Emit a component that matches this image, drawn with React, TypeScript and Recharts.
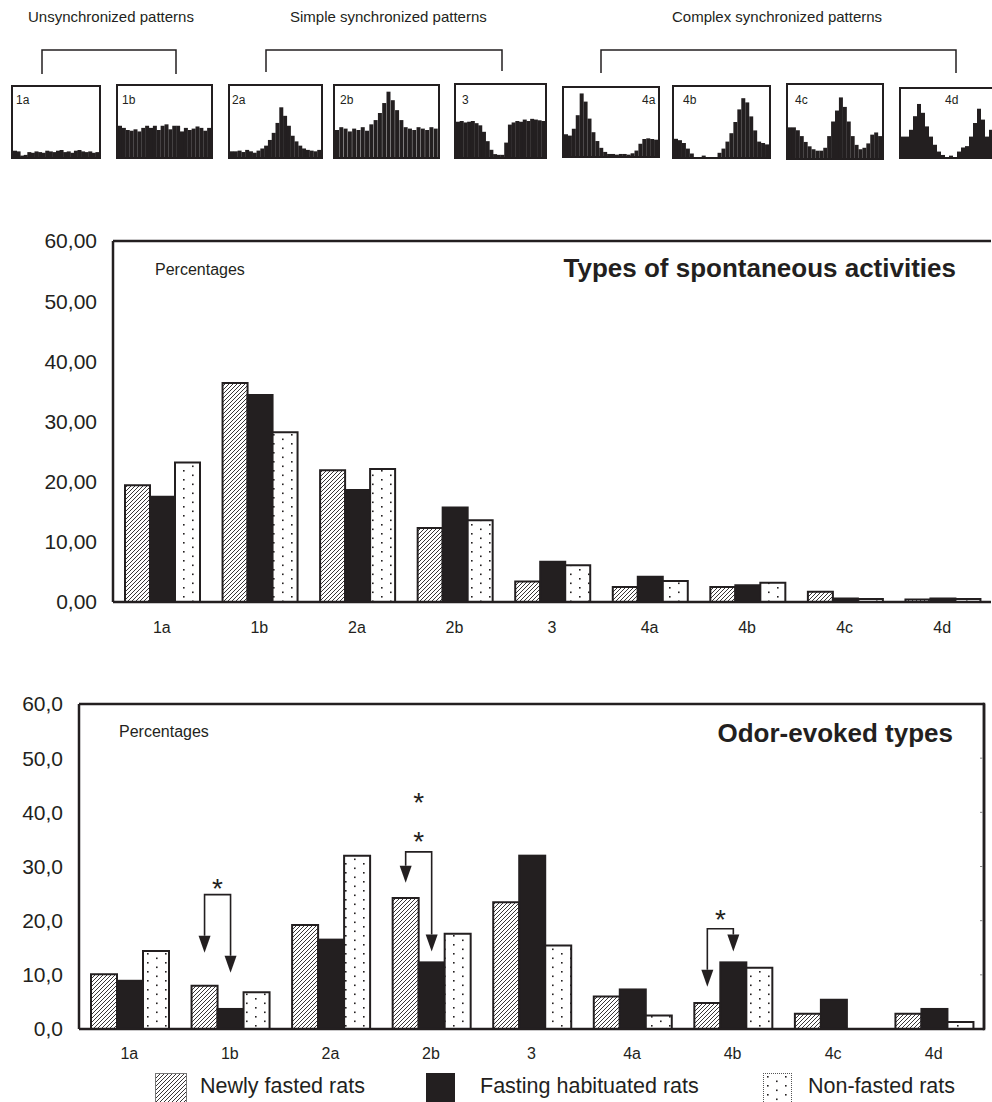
import React from "react";
import { BarChart, Bar, XAxis, YAxis, ReferenceLine } from "recharts";

const INK = "#231f20";
const FONT = '"Liberation Sans", Arial, Helvetica, sans-serif';

// categories of activity patterns
const categories = ["1a", "1b", "2a", "2b", "3", "4a", "4b", "4c", "4d"];
const seriesNames = ["Newly fasted rats", "Fasting habituated rats", "Non-fasted rats"];
const yTicks = [0, 10, 20, 30, 40, 50, 60];

// spontaneous activities (%)
const spontNewly = [19.4, 36.4, 21.9, 12.3, 3.4, 2.5, 2.5, 1.7, 0.4];
const spontHabituated = [17.5, 34.4, 18.6, 15.7, 6.7, 4.2, 2.8, 0.6, 0.6];
const spontNonFasted = [23.2, 28.2, 22.1, 13.6, 6.1, 3.5, 3.2, 0.5, 0.5];

// odor-evoked types (%)
const odorNewly = [10.1, 8.0, 19.2, 24.2, 23.4, 6.0, 4.8, 2.8, 2.8];
const odorHabituated = [8.9, 3.7, 16.5, 12.3, 32.0, 7.3, 12.3, 5.4, 3.7];
const odorNonFasted = [14.4, 6.8, 32.0, 17.6, 15.4, 2.5, 11.3, 0, 1.3];

// significance arrows (odor chart), values in % units
const sigCategories = ["1b", "2b", "4b"];
const sigTop = [24.8, 32.7, 18.5];
const sigLeftTip = [14.1, 27.0, 7.8];
const sigRightTip = [10.4, 14.3, 14.3];
const sigStars = [[27.0], [35.7, 42.9], [21.3]];

// example histograms of each pattern (height in % of the frame)
const inset1a = [9, 8, 2, 3, 7, 6, 8, 7, 6, 9, 8, 7, 9, 10, 7, 8, 6, 9, 10, 8, 7, 8, 6, 7];
const inset1b = [44, 41, 38, 37, 39, 36, 41, 44, 41, 44, 38, 44, 46, 39, 44, 44, 36, 41, 38, 40, 43, 41, 37, 41];
const inset2a = [8, 8, 9, 7, 10, 8, 6, 9, 12, 16, 24, 34, 48, 70, 58, 44, 30, 22, 16, 12, 10, 9, 8, 10];
const inset2b = [38, 42, 40, 36, 40, 38, 42, 37, 46, 52, 62, 76, 92, 80, 66, 52, 42, 40, 38, 42, 40, 38, 42, 40];
const inset3 = [49, 50, 48, 49, 50, 47, 44, 35, 22, 10, 4, 3, 3, 20, 45, 48, 50, 49, 52, 50, 53, 52, 51, 50];
const inset4a = [32, 30, 40, 60, 92, 80, 55, 35, 22, 12, 6, 3, 3, 2, 3, 3, 2, 4, 8, 18, 25, 26, 25, 24];
const inset4b = [26, 24, 20, 12, 5, 0, 0, 2, 0, 0, 0, 6, 12, 22, 34, 50, 68, 84, 78, 58, 38, 22, 20, 18];
const inset4c = [42, 42, 38, 30, 22, 16, 12, 10, 10, 14, 30, 50, 65, 83, 70, 50, 30, 18, 12, 14, 20, 32, 35, 30];
const inset4d = [30, 30, 40, 60, 78, 65, 45, 30, 18, 8, 3, 0, 2, 0, 8, 14, 16, 30, 50, 71, 55, 30, 40, 45];
const insetSeries = [inset1a, inset1b, inset2a, inset2b, inset3, inset4a, inset4b, inset4c, inset4d];

const insetBoxes = [
  { x: 11, y: 85, w: 90, h: 74, lx: 5 },
  { x: 116, y: 84, w: 97, h: 75, lx: 6 },
  { x: 228, y: 84, w: 95, h: 75, lx: 4 },
  { x: 333, y: 84, w: 107, h: 75, lx: 7 },
  { x: 454, y: 83, w: 93, h: 76, lx: 8 },
  { x: 562, y: 86, w: 98, h: 72, lx: 80 },
  { x: 672, y: 85, w: 99, h: 74, lx: 11 },
  { x: 786, y: 83, w: 98, h: 77, lx: 9 },
  { x: 899, y: 87, w: 100, h: 72, lx: 46 },
];

const seriesKeys = ["newly", "habituated", "nonFasted"];
const seriesFills = ["url(#hatch)", INK, "url(#dots)"];

const buildRows = (a: number[], b: number[], c: number[]) =>
  categories.map((cat, i) => ({ cat, newly: a[i], habituated: b[i], nonFasted: c[i] }));

const spontRows = buildRows(spontNewly, spontHabituated, spontNonFasted);
const odorRows = buildRows(odorNewly, odorHabituated, odorNonFasted);

const comma = (d: number) => (v: number) => v.toFixed(d).replace(".", ",");

const axisStyle = { stroke: INK, strokeWidth: 2.5 };

// odor chart frame
const ODOR_TOP = 690;
const ODOR_W = 992;
const ODOR_H = 379;
const ODOR_M = { top: 14, right: 8, bottom: 0, left: 0 };
const ODOR_XAXIS_H = 40;
const odorPlotRight = ODOR_W - ODOR_M.right;
const odorPlotTop = ODOR_TOP + ODOR_M.top;
const odorPlotBottom = ODOR_TOP + ODOR_H - ODOR_M.bottom - ODOR_XAXIS_H;

// black bar that also draws the significance arrows of its category
const SigBar = (props: any) => {
  const { x, y, width, height, payload } = props;
  const rect = <rect x={x} y={y} width={width} height={height} fill={INK} stroke={INK} strokeWidth={2} />;
  const i = sigCategories.indexOf(payload.cat);
  if (i < 0 || !payload.habituated || !height) return rect;
  const k = height / payload.habituated;
  const base = y + height;
  const py = (v: number) => base - v * k;
  const lx = x - width / 2;
  const rx = x + width / 2;
  const head = 17;
  const hw = 6;
  const yl = py(sigLeftTip[i]);
  const yr = py(sigRightTip[i]);
  return (
    <g>
      {rect}
      <path d={`M${lx},${yl - head}V${py(sigTop[i])}H${rx}V${yr - head}`} fill="none" stroke={INK} strokeWidth={1.6} />
      <polygon points={`${lx - hw},${yl - head} ${lx + hw},${yl - head} ${lx},${yl}`} fill={INK} />
      <polygon points={`${rx - hw},${yr - head} ${rx + hw},${yr - head} ${rx},${yr}`} fill={INK} />
      {sigStars[i].map((s, j) => (
        <text key={j} x={(lx + rx) / 2} y={py(s) + 15} textAnchor="middle" fontSize={28} fontFamily={FONT} fill={INK}>
          *
        </text>
      ))}
    </g>
  );
};

const Inset = ({ values, box }: { values: number[]; box: { x: number; y: number; w: number; h: number } }) => (
  <div style={{ position: "absolute", left: box.x + 2, top: box.y + 2 }}>
    <BarChart width={box.w - 4} height={box.h - 4} data={values.map((v, i) => ({ i, v }))} margin={{ top: 0, right: 0, bottom: 0, left: 0 }} barCategoryGap={0}>
      <XAxis dataKey="i" hide />
      <YAxis hide domain={[0, 100]} />
      <Bar dataKey="v" fill={INK} isAnimationActive={false} />
    </BarChart>
  </div>
);

const tickFont = { fill: INK, fontFamily: FONT };

export default function App() {
  return (
    <div style={{ position: "relative", width: 992, height: 1102, overflow: "hidden", background: "#fff", fontFamily: FONT, color: INK }}>
      <style>{"html,body{margin:0;padding:0;overflow:hidden}"}</style>
      <svg width={0} height={0} style={{ position: "absolute" }}>
        <defs>
          <pattern id="hatch" patternUnits="userSpaceOnUse" width={4} height={4}>
            <rect width={4} height={4} fill="#fff" />
            <path d="M-1,1 l2,-2 M0,4 l4,-4 M3,5 l2,-2" stroke={INK} strokeWidth={0.9} />
          </pattern>
          <pattern id="dots" patternUnits="userSpaceOnUse" width={18} height={9}>
            <rect width={18} height={9} fill="#fff" />
            <rect x={3} y={2} width={1.6} height={1.6} fill={INK} />
            <rect x={12} y={6.5} width={1.6} height={1.6} fill={INK} />
          </pattern>
        </defs>
      </svg>

      {insetSeries.map((vals, i) => (
        <Inset key={i} values={vals} box={insetBoxes[i]} />
      ))}

      <div style={{ position: "absolute", left: 0, top: 225 }}>
        <BarChart width={991} height={425} data={spontRows} margin={{ top: 16, right: 0, bottom: 8, left: 0 }} barCategoryGap={12} barGap={0}>
          <XAxis dataKey="cat" interval={0} height={40} axisLine={axisStyle} tickLine={false} tickMargin={14} tick={{ ...tickFont, fontSize: 16 }} />
          <YAxis width={113} domain={[0, 60]} ticks={yTicks} interval={0} tickFormatter={comma(2)} axisLine={axisStyle} tickLine={false} tickMargin={10} tick={{ ...tickFont, fontSize: 21 }} />
          <ReferenceLine y={60} stroke={INK} strokeWidth={2.5} />
          {seriesKeys.map((k, i) => (
            <Bar key={k} dataKey={k} name={seriesNames[i]} fill={seriesFills[i]} stroke={INK} strokeWidth={2} isAnimationActive={false} />
          ))}
        </BarChart>
      </div>

      <div style={{ position: "absolute", left: 0, top: ODOR_TOP }}>
        <BarChart width={ODOR_W} height={ODOR_H} data={odorRows} margin={ODOR_M} barCategoryGap={12} barGap={0}>
          <XAxis dataKey="cat" interval={0} height={ODOR_XAXIS_H} axisLine={axisStyle} tickLine={false} tickMargin={13} tick={{ ...tickFont, fontSize: 16 }} />
          <YAxis width={79} domain={[0, 60]} ticks={yTicks} interval={0} tickFormatter={comma(1)} axisLine={axisStyle} tickLine={false} tickMargin={10} tick={{ ...tickFont, fontSize: 21 }} />
          <ReferenceLine y={60} stroke={INK} strokeWidth={2.5} />
          <ReferenceLine x="4d" position="end" ifOverflow="visible" stroke={INK} strokeWidth={2.5} />
          {seriesKeys.map((k, i) => (
            <Bar
              key={k}
              dataKey={k}
              name={seriesNames[i]}
              fill={seriesFills[i]}
              stroke={INK}
              strokeWidth={2}
              isAnimationActive={false}
              shape={k === "habituated" ? SigBar : undefined}
            />
          ))}
        </BarChart>
      </div>

      {/* legend */}
      {[
        { sx: 155, sw: 32, tx: 200, border: "1px solid #777" },
        { sx: 426, sw: 29, tx: 480, border: "none" },
        { sx: 763, sw: 29, tx: 808, border: "1px dotted #555" },
      ].map((it, i) => (
        <React.Fragment key={i}>
          <svg style={{ position: "absolute", left: it.sx, top: 1073, border: it.border, boxSizing: "border-box" }} width={it.sw} height={31}>
            <rect width={it.sw} height={31} fill={seriesFills[i]} />
          </svg>
          <div style={{ position: "absolute", left: it.tx, top: 1074, fontSize: 21.5, lineHeight: "24px", whiteSpace: "nowrap" }}>{seriesNames[i]}</div>
        </React.Fragment>
      ))}

      <svg width={992} height={1102} style={{ position: "absolute", left: 0, top: 0, pointerEvents: "none" }} fontFamily={FONT} fill={INK}>
        <text x={28} y={22} fontSize={15}>Unsynchronized patterns</text>
        <text x={290} y={22} fontSize={15}>Simple synchronized patterns</text>
        <text x={672} y={22} fontSize={15}>Complex synchronized patterns</text>
        <g fill="none" stroke={INK} strokeWidth={1.5}>
          <path d="M42,74V50H176V74" />
          <path d="M266,72V50H502V71" />
          <path d="M601,73V50H956V73" />
        </g>
        {insetBoxes.map((b, i) => (
          <g key={i}>
            <rect x={b.x + 1} y={b.y + 1} width={b.w - 2} height={b.h - 2} fill="none" stroke={INK} strokeWidth={2} />
            <text x={b.x + b.lx} y={104} fontSize={12}>{categories[i]}</text>
          </g>
        ))}
        {/* right frame of the odor chart with small inner ticks */}
        <rect x={odorPlotRight - 1.25} y={odorPlotTop - 1.25} width={2.5} height={odorPlotBottom - odorPlotTop + 2.5} fill={INK} />
        {yTicks.slice(1, -1).map((t) => {
          const ty = odorPlotBottom - ((odorPlotBottom - odorPlotTop) * t) / 60;
          return <rect key={t} x={odorPlotRight - 4} y={ty - 0.5} width={3} height={1} fill="#888" />;
        })}
        <text x={155} y={275} fontSize={16}>Percentages</text>
        <text x={956} y={277} fontSize={26} fontWeight="bold" textAnchor="end">Types of spontaneous activities</text>
        <text x={119} y={737} fontSize={16}>Percentages</text>
        <text x={953} y={742} fontSize={26} fontWeight="bold" textAnchor="end">Odor-evoked types</text>
      </svg>
    </div>
  );
}
